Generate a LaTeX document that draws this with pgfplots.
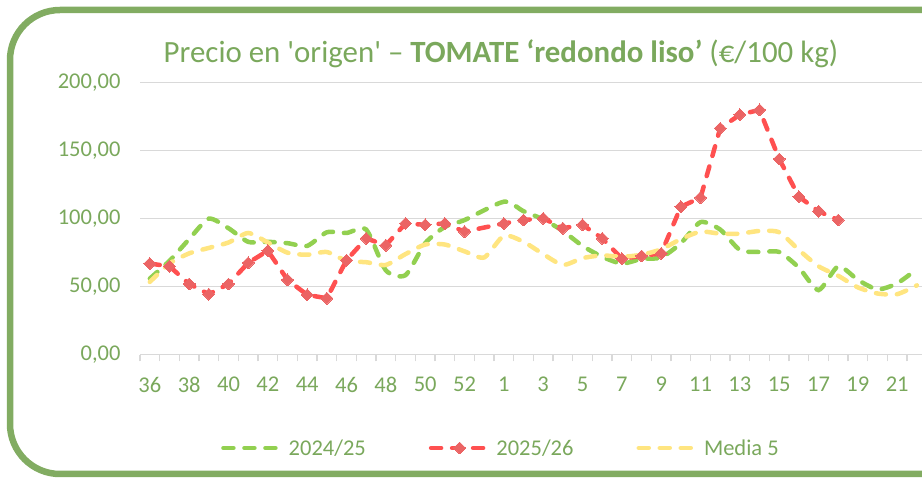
\documentclass[border=0pt]{standalone}
\usepackage{fontspec}
\setmainfont{Carlito}
\newfontfamily\qfont{Carlito}
\usepackage{pgfplots}
\usepackage{pgfplotstable}
\pgfplotsset{compat=1.18}
\definecolor{txtgreen}{RGB}{122,168,92}
\definecolor{framegreen}{RGB}{130,172,98}
\definecolor{lgreen}{RGB}{146,208,80}
\definecolor{lred}{RGB}{255,80,80}
\definecolor{mred}{RGB}{235,100,100}
\definecolor{lyellow}{RGB}{255,229,128}
\definecolor{gridgray}{RGB}{217,217,217}

\pgfplotstableread{
x y
0 56
1 69
2 85
3 100
4 93
5 83
6 83
7 82
8 80
9 90
10 89.5
11 92
12 62
13 58.5
14 82
15 94
16 99
18 112.5
19 105.5
20 99.5
21 91
22 80
23 72
24 67
25 70.4
26 71.5
27 82
28 97.5
29 92
30 77
31 75.5
32 75.5
33 64
34 47.5
35 65
36 55
37 48
38 52.5
39 63
}\greentab

\pgfplotstableread{
x y
0 67
1 65
2 52
3 44.5
4 52
5 67.5
6 76.5
7 55
8 44
9 41.5
10 69.5
11 85.5
12 80.5
13 96.5
14 95.5
15 96.5
16 90.5
18 96.5
19 99
20 100.3
21 93
22 95.5
23 85.6
24 70.6
25 72.6
26 74.5
27 108.8
28 115.5
29 166.5
30 176.5
31 180
32 143.9
33 116.2
34 105.5
35 99
}\redtab

\pgfplotstableread{
x y
0 53.5
1 67
2 74.5
3 78.5
4 82.5
5 89.5
6 82.5
7 75
8 73.5
9 75.5
10 69
11 68
12 66
13 74
14 81
15 81
16 76
17 71.5
18 87.5
19 83
20 74
21 66
22 71
23 73
24 72
25 73.5
26 77.5
27 85
28 90.5
29 89
30 89
31 91
32 90
33 77
34 65
35 58
36 49.5
37 45
38 44.5
39 51
}\yellowtab

\begin{document}
\begin{tikzpicture}
\path[use as bounding box] (0,0) rectangle (922bp,478bp);
\clip (0,0) rectangle (922bp,478bp);
\draw[framegreen, line width=6.5bp, rounded corners=50bp] (1300bp,4bp) -- (10bp,4bp) -- (10bp,468bp) -- (1300bp,468bp);
\node[anchor=base, text=txtgreen, font=\qfont\fontsize{31}{35}\selectfont] at (501bp,415bp)
  {Precio en 'origen' – \textbf{TOMATE ‘redondo liso’} (€/100 kg)};
\begin{axis}[
  at={(140bp,123.3bp)}, anchor=south west,
  scale only axis, width=782bp, height=272bp,
  xmin=-0.5, xmax=39.26, ymin=0, ymax=200,
  axis x line=bottom, axis y line=left,
  x axis line style={gridgray, line width=1.3bp, -},
  y axis line style={draw=none, -},
  ytick={0,50,...,200},
  yticklabels={{0,00},{50,00},{100,00},{150,00},{200,00}},
  xtick={0,2,...,38},
  xticklabels={36,38,40,42,44,46,48,50,52,1,3,5,7,9,11,13,15,17,19,21},
  minor xtick={-0.5,0.5,...,38.5},
  major tick length=0pt, minor tick length=6.7bp,
  tick align=outside,
  tick style={gridgray, line width=1.3bp},
  ymajorgrids, grid style={gridgray, line width=1.3bp},
  minor grid style={draw=none},
  ticklabel style={text=txtgreen, font=\fontsize{22.6}{27}\selectfont},
  yticklabel style={xshift=-16bp},
  xticklabel style={yshift=-19bp},
  legend style={at={(0.4616,-0.343)}, anchor=center, draw=none, fill=none,
    legend columns=3, text=txtgreen, font=\fontsize{22.6}{27}\selectfont,
    /tikz/every odd column/.append style={column sep=4bp},
    /tikz/every even column/.append style={column sep=61bp}},
  legend image code/.code={\draw[mark repeat=2,mark phase=2,#1] plot coordinates {(0bp,0bp) (28.5bp,0bp) (57bp,0bp)};},
  every axis plot/.append style={line width=4.5bp, line cap=round, dash pattern=on 10bp off 11bp},
]
\addplot[lgreen, smooth, tension=0.4, no marks] table[x=x,y=y] {\greentab};
\addlegendentry{2024/25}
\addplot[lred, mark=square*, mark size=4.2bp, mark options={solid, rotate=45, fill=mred, draw=mred, line width=0pt}] table[x=x,y=y] {\redtab};
\addlegendentry{2025/26}
\addplot[lyellow, smooth, tension=0.4, no marks] table[x=x,y=y] {\yellowtab};
\addlegendentry{Media 5}
\end{axis}
\end{tikzpicture}
\end{document}
